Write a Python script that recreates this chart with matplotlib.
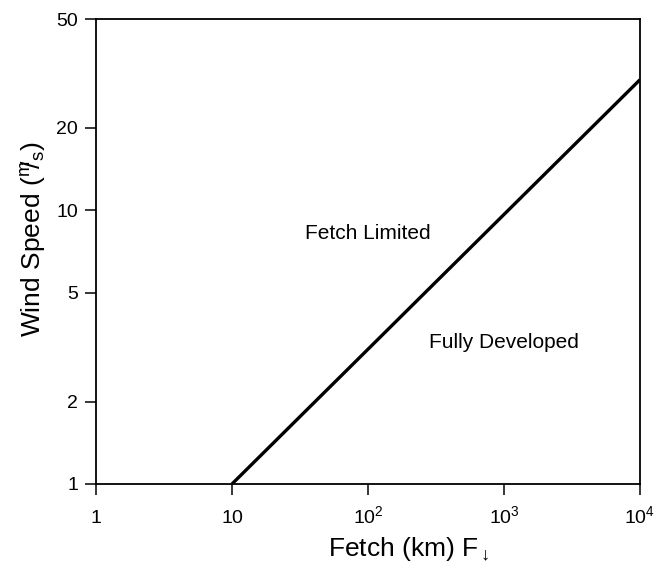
import matplotlib
matplotlib.use("Agg")
import matplotlib.pyplot as plt
from matplotlib.ticker import FixedLocator, FixedFormatter, NullLocator

plt.rcParams['font.family'] = ['Liberation Sans', 'DejaVu Sans']
plt.rcParams['mathtext.fontset'] = 'custom'
plt.rcParams['mathtext.rm'] = 'Liberation Sans'
plt.rcParams['mathtext.it'] = 'Liberation Sans'

# Data
fetch_km = [10, 1e4]
wind_speed = [1, 30]
x_ticks = [1, 10, 100, 1000, 10000]
x_ticklabels = [r'$\mathregular{1}$', r'$\mathregular{10}$', r'$\mathregular{10^2}$',
                r'$\mathregular{10^3}$', r'$\mathregular{10^4}$']
y_ticks = [1, 2, 5, 10, 20, 50]
y_ticklabels = ['1', '2', '5', '10', '20', '50']

fig = plt.figure(figsize=(6.58, 5.71), dpi=100)
ax = fig.add_axes([0.1459, 0.1524, 0.8267, 0.8143])
ax.plot(fetch_km, wind_speed, color='black', lw=2.4, solid_capstyle='butt')
ax.set_xscale('log')
ax.set_yscale('log')
ax.set_xlim(1, 1e4)
ax.set_ylim(1, 50)
ax.xaxis.set_major_locator(FixedLocator(x_ticks))
ax.xaxis.set_major_formatter(FixedFormatter(x_ticklabels))
ax.xaxis.set_minor_locator(NullLocator())
ax.yaxis.set_major_locator(FixedLocator(y_ticks))
ax.yaxis.set_major_formatter(FixedFormatter(y_ticklabels))
ax.yaxis.set_minor_locator(NullLocator())
ax.tick_params(axis='both', direction='out', length=8, width=1.1, labelsize=14)
ax.tick_params(axis='x', pad=20)
ax.tick_params(axis='y', pad=5)
for lbl in ax.get_xticklabels():
    lbl.set_verticalalignment('baseline')
for s in ax.spines.values():
    s.set_linewidth(1.3)

ax.set_xlabel(r'Fetch (km) F$_{\downarrow}$', fontsize=19)
ax.xaxis.set_label_coords(0.575, -0.11)
ax.set_ylabel(r'Wind Speed ($^{\rm m}\!\!/_{\rm s}$)', fontsize=19)
ax.yaxis.set_label_coords(-0.088, 0.527)

ax.text(100, 8.2, 'Fetch Limited', fontsize=15, ha='center', va='center')
ax.text(1000, 3.3, 'Fully Developed', fontsize=15, ha='center', va='center')

fig.savefig('out.png', dpi=100)
